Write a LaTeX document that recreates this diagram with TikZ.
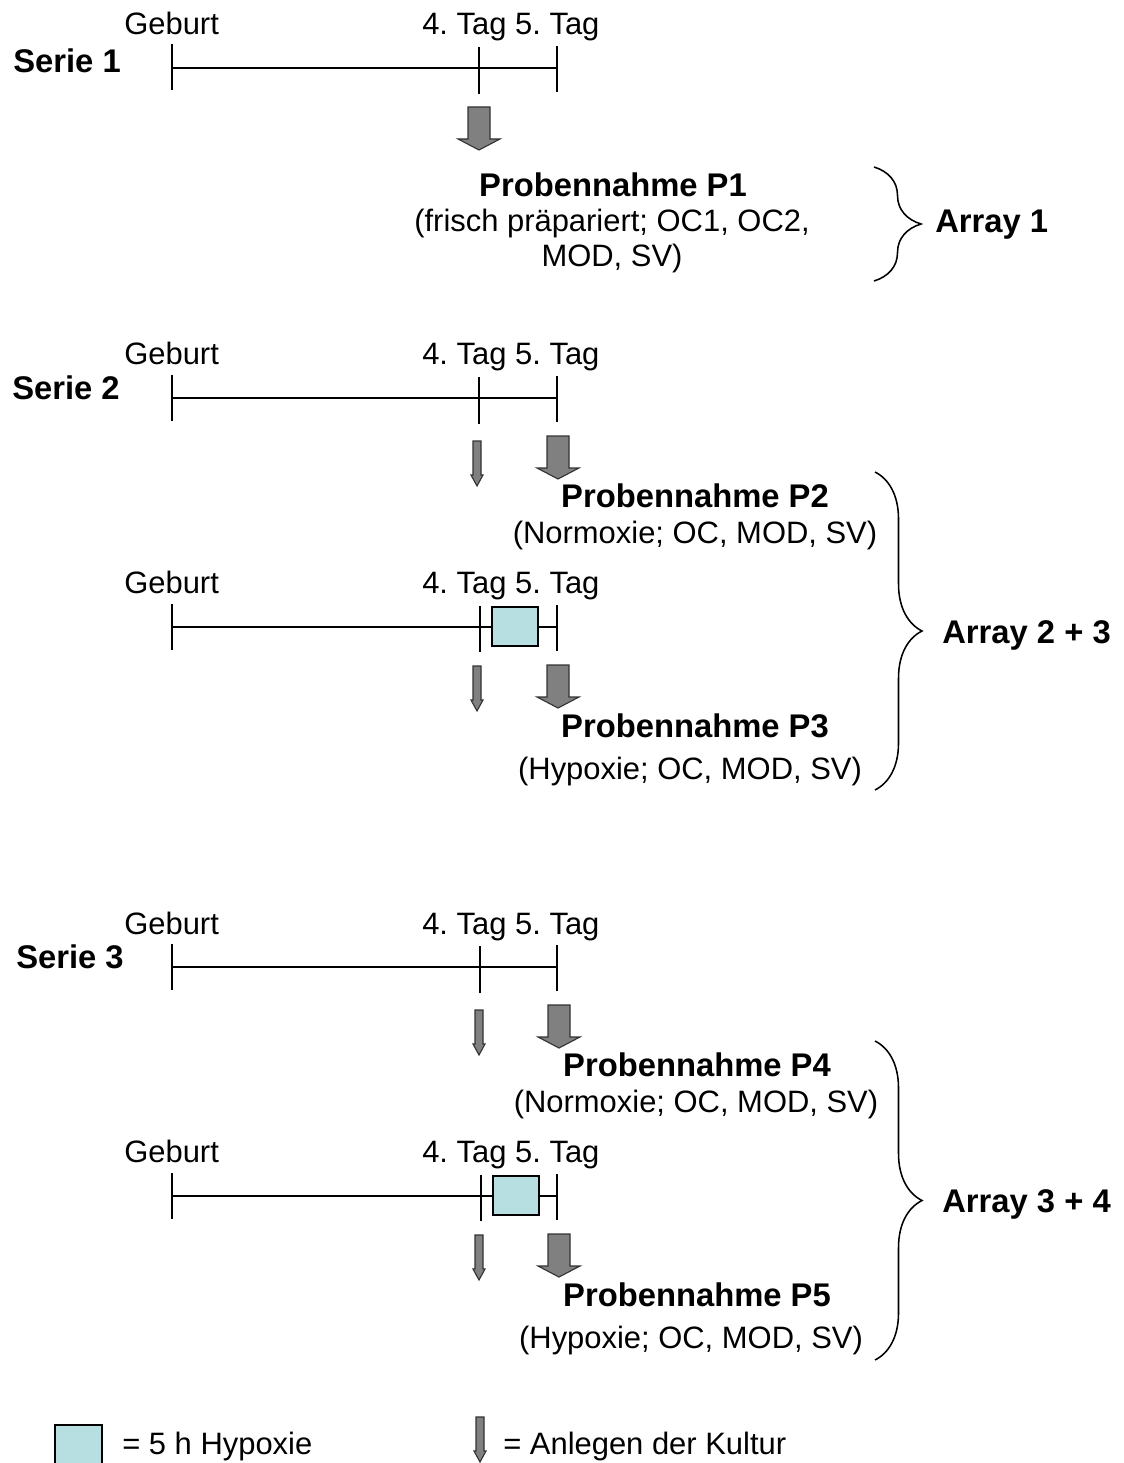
\documentclass[tikz,border=0pt]{standalone}
\usepackage{fontspec}
\setmainfont{Liberation Sans}
\usepackage{tikz}
\usetikzlibrary{positioning,decorations.pathreplacing}

\definecolor{hypoxcol}{RGB}{183,222,225}
\definecolor{arrowgray}{RGB}{128,128,128}

\frenchspacing

\tikzset{
  txt/.style={inner sep=0pt,anchor=base west,font=\fontsize{22}{26}\selectfont},
  txtb/.style={txt,font=\fontsize{23.3}{28}\selectfont\bfseries},
  ctxt/.style={txt,anchor=base},
  ctxtb/.style={txtb,anchor=base},
  tline/.style={line width=1.1pt},
  hypbox/.style={draw,line width=1.1pt,fill=hypoxcol,inner sep=0pt,minimum width=1.15cm,minimum height=0.975cm},
  arraybrace/.style={line width=1.1pt,decorate,decoration={brace,amplitude=1.175cm,aspect=0.5}},
  bigarr/.pic={\filldraw[fill=arrowgray,draw=black!80,line width=0.8pt]
    (-11,0) -- (11,0) -- (11,32) -- (21,32) -- (0,43) -- (-21,32) -- (-11,32) -- cycle;},
  smallarr/.pic={\filldraw[fill=arrowgray,draw=black!80,line width=0.8pt]
    (-4,0) -- (4,0) -- (4,34) -- (6,34) -- (0,45) -- (-6,34) -- (-4,34) -- cycle;},
}

\begin{document}
\begin{tikzpicture}[x=0.025cm,y=-0.025cm]

\clip (0,0) rectangle (1123,1463);

% Serie 1
\node[txtb] (serie1) at (13,73) {Serie 1};
\node[txt] (geb1) at (124,35) {Geburt};
\node[txt] (tag1) at (422,35) {4. Tag 5. Tag};
\coordinate (s1a) at (172,68);
\coordinate (s1b) at (479,68);
\coordinate (s1c) at (557,68);
\draw[tline] (s1a) -- (s1c);
\draw[tline] (172,44) -- (172,90);
\draw[tline] (479,47) -- (479,94);
\draw[tline] (557,46) -- (557,92);
\pic at (479,107) {bigarr};
\node[ctxtb] (p1) at (613,197) {Probennahme P1};
\node[ctxt] (p1a) at (612,232) {(frisch präpariert; OC1, OC2,};
\node[ctxt] (p1b) at (612,267) {MOD, SV)};
\draw[arraybrace] (874,167) -- (874,281);
\node[txtb] (arr1) at (935,233) {Array 1};

% Serie 2
\node[txtb] (serie2) at (12,399) {Serie 2};
\node[txt] (geb2) at (124,365) {Geburt};
\node[txt] (tag2) at (422,365) {4. Tag 5. Tag};
\coordinate (s2a) at (172,398);
\coordinate (s2b) at (479,398);
\coordinate (s2c) at (557,398);
\draw[tline] (s2a) -- (s2c);
\draw[tline] (172,375) -- (172,421);
\draw[tline] (479,377) -- (479,424);
\draw[tline] (557,376) -- (557,422);
\pic at (477,441) {smallarr};
\pic at (558,436) {bigarr};
\node[ctxtb] (p2) at (695,507) {Probennahme P2};
\node[ctxt] (p2a) at (695,543) {(Normoxie; OC, MOD, SV)};

\node[txt] (geb3) at (124,593) {Geburt};
\node[txt] (tag3) at (422,593) {4. Tag 5. Tag};
\coordinate (s3a) at (172,627);
\coordinate (s3b) at (480,627);
\coordinate (s3c) at (557,627);
\draw[tline] (s3a) -- (s3c);
\draw[tline] (172,604) -- (172,650);
\draw[tline] (480,606) -- (480,652);
\draw[tline] (557,605) -- (557,651);
\node[hypbox] (hyp3) at (515,626.5) {};
\pic at (477,666) {smallarr};
\pic at (558,665) {bigarr};
\node[ctxtb] (p3) at (695,737) {Probennahme P3};
\node[ctxt] (p3a) at (690,779) {(Hypoxie; OC, MOD, SV)};
\draw[arraybrace] (875,472) -- (875,790);
\node[txtb] (arr2) at (942,643) {Array 2 + 3};

% Serie 3
\node[txtb] (serie3) at (16,968) {Serie 3};
\node[txt] (geb4) at (124,934) {Geburt};
\node[txt] (tag4) at (422,934) {4. Tag 5. Tag};
\coordinate (s4a) at (172,967);
\coordinate (s4b) at (480,967);
\coordinate (s4c) at (557,967);
\draw[tline] (s4a) -- (s4c);
\draw[tline] (172,944) -- (172,990);
\draw[tline] (480,946) -- (480,993);
\draw[tline] (557,945) -- (557,991);
\pic at (479,1010) {smallarr};
\pic at (559,1005) {bigarr};
\node[ctxtb] (p4) at (697,1076) {Probennahme P4};
\node[ctxt] (p4a) at (696,1112) {(Normoxie; OC, MOD, SV)};

\node[txt] (geb5) at (124,1162) {Geburt};
\node[txt] (tag5) at (422,1162) {4. Tag 5. Tag};
\coordinate (s5a) at (172,1196);
\coordinate (s5b) at (481,1196);
\coordinate (s5c) at (557,1196);
\draw[tline] (s5a) -- (s5c);
\draw[tline] (172,1173) -- (172,1219);
\draw[tline] (481,1175) -- (481,1221);
\draw[tline] (557,1174) -- (557,1220);
\node[hypbox] (hyp5) at (516,1195.5) {};
\pic at (479,1235) {smallarr};
\pic at (559,1234) {bigarr};
\node[ctxtb] (p5) at (697,1306) {Probennahme P5};
\node[ctxt] (p5a) at (691,1348) {(Hypoxie; OC, MOD, SV)};
\draw[arraybrace] (875,1041) -- (875,1360);
\node[txtb] (arr3) at (942,1212) {Array 3 + 4};

% Legende
\draw[line width=1.1pt,fill=hypoxcol] (55,1425) rectangle (102,1480);
\node[txt] (leg1) at (122,1454) {= 5 h Hypoxie};
\pic at (480,1417) {smallarr};
\node[txt] (leg2) at (503,1454) {= Anlegen der Kultur};

\end{tikzpicture}
\end{document}
